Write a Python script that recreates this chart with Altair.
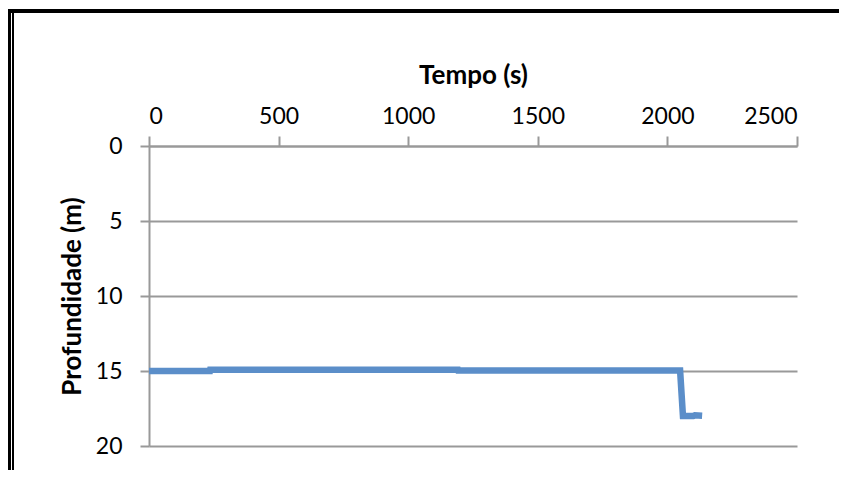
import altair as alt
import pandas as pd

# Data
tempo = [0, 235, 236, 1192, 1193, 2049, 2060, 2100, 2106, 2134]
profundidade = [15.0, 15.0, 14.92, 14.92, 14.97, 14.97, 18.0, 18.0, 17.95, 17.98]
x_ticks = [0, 500, 1000, 1500, 2000, 2500]
y_ticks = [0, 5, 10, 15, 20]

df = pd.DataFrame({"t": tempo, "p": profundidade, "i": list(range(len(tempo)))})

FONT = "Lato"
GRAY = "#999999"

line = alt.Chart(df).mark_line(color="#5B8EC9", strokeWidth=6.5, strokeCap="butt").encode(
    x=alt.X("t:Q",
            scale=alt.Scale(domain=[0, 2500], nice=False, zero=False),
            axis=alt.Axis(orient="top", title="Tempo (s)", values=x_ticks, grid=False,
                          format="d",
                          tickSize=10, tickWidth=2, tickColor=GRAY,
                          domainColor=GRAY, domainWidth=2,
                          labelPadding=8, labelFontSize=23, labelFont=FONT,
                          labelColor="black", labelAngle=0,
                          titleFont=FONT, titleFontSize=26, titleFontWeight="bold",
                          titleColor="black", titlePadding=17)),
    y=alt.Y("p:Q",
            scale=alt.Scale(domain=[0, 20], reverse=True, nice=False, zero=False),
            axis=alt.Axis(orient="left", title="Profundidade (m)", values=y_ticks,
                          grid=True, gridColor=GRAY, gridWidth=2, format="d",
                          tickSize=9, tickWidth=2, tickColor=GRAY,
                          domainColor=GRAY, domainWidth=2,
                          labelPadding=18, labelFontSize=23, labelFont=FONT,
                          labelColor="black",
                          titleFont=FONT, titleFontSize=26, titleFontWeight="bold",
                          titleColor="black", titlePadding=10)),
    order="i:Q",
)

# Decorative frame of the original figure (top thick line, left double line)
border_top = alt.Chart(df).mark_rule(color="black", strokeWidth=4).encode(
    x=alt.value(-141), x2=alt.value(700), y=alt.value(-135))
border_left1 = alt.Chart(df).mark_rule(color="black", strokeWidth=2.5).encode(
    x=alt.value(-139.5), y=alt.value(-137), y2=alt.value(330))
border_left2 = alt.Chart(df).mark_rule(color="black", strokeWidth=2).encode(
    x=alt.value(-136), y=alt.value(-133), y2=alt.value(330))

chart = alt.layer(line, border_top, border_left1, border_left2).properties(
    width=648, height=300,
    autosize=alt.AutoSizeParams(type="none"),
    padding={"left": 141, "top": 138, "right": 42, "bottom": 24},
    background="white",
).configure_view(stroke=None)

chart.save("out.html", embed_options={"renderer": "svg", "actions": False})
